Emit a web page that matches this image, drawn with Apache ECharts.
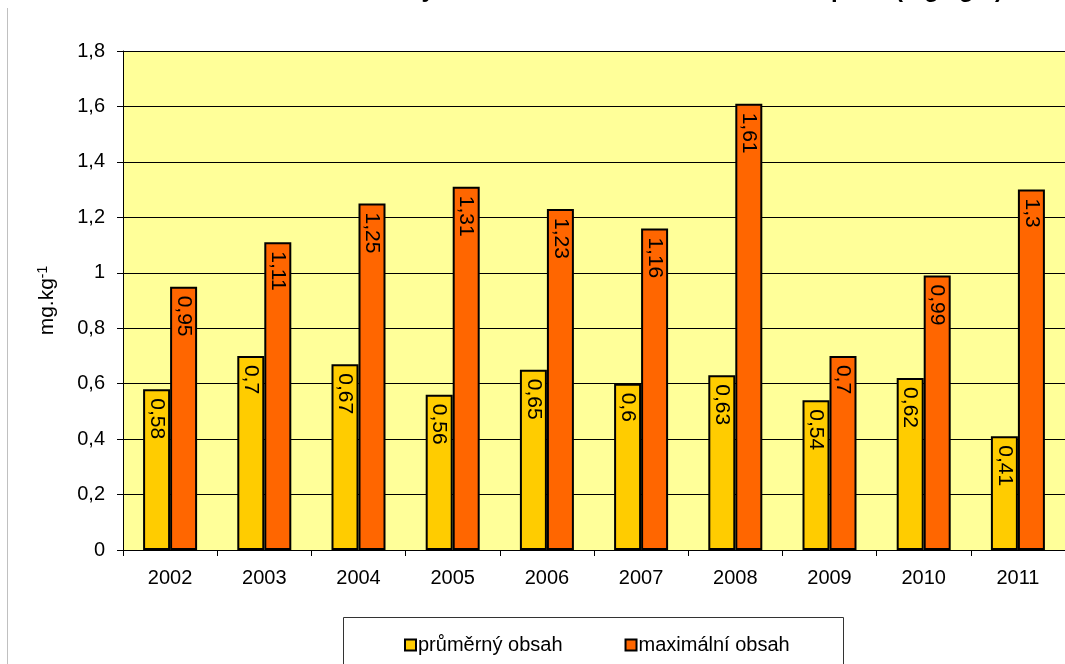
<!DOCTYPE html>
<html>
<head>
<meta charset="utf-8">
<style>
  html, body { margin: 0; padding: 0; background: #ffffff; }
  #chart { width: 1065px; height: 664px; }
</style>
<script src="https://cdn.jsdelivr.net/npm/echarts@6/dist/echarts.min.js"></script>
</head>
<body>
<div id="chart"></div>
<script>
// Years on the category axis
const years = ['2002', '2003', '2004', '2005', '2006', '2007', '2008', '2009', '2010', '2011'];
// Average content per year (mg.kg-1)
const averageContent = [0.58, 0.7, 0.67, 0.56, 0.65, 0.6, 0.63, 0.54, 0.62, 0.41];
// Maximum content per year (mg.kg-1)
const maximumContent = [0.95, 1.11, 1.25, 1.31, 1.23, 1.16, 1.61, 0.7, 0.99, 1.3];
const seriesNames = ['průměrný obsah', 'maximální obsah'];

const FONT = 'Liberation Sans, Arial, sans-serif';
const comma = v => String(v).replace('.', ',');

const barLabel = {
  show: true,
  position: 'insideTop',
  distance: 9,
  rotate: -90,
  align: 'left',
  verticalAlign: 'middle',
  color: '#000',
  fontFamily: FONT,
  fontSize: 21,
  formatter: p => comma(p.value)
};

const chart = echarts.init(document.getElementById('chart'), null, { renderer: 'canvas' });

chart.setOption({
  animation: false,
  backgroundColor: '#ffffff',
  grid: { left: 123, top: 51, width: 950, bottom: 114, show: true, backgroundColor: '#FFFF99', borderWidth: 0 },
  graphic: [
    // chart frame edge on the left
    { type: 'line', shape: { x1: 7.5, y1: 8, x2: 7.5, y2: 664 }, style: { stroke: '#c0c0c0', lineWidth: 1 } },
    // title (clipped at the top of the page)
    { type: 'text', x: 1003, y: 2, style: { text: 'Průměrný a maximální obsah kadmia v orné půdě (mg.kg-1)', align: 'right', verticalAlign: 'bottom', font: 'bold 24px ' + FONT, fill: '#000' } },
    // legend frame
    { type: 'rect', shape: { x: 343.5, y: 617.5, width: 500, height: 60 }, style: { fill: '#fff', stroke: '#333', lineWidth: 1 }, z: 0 }
  ],
  legend: {
    data: seriesNames,
    left: 399,
    top: 630,
    itemWidth: 11,
    itemHeight: 11,
    itemGap: 62,
    icon: 'rect',
    textStyle: { fontFamily: FONT, fontSize: 20, color: '#000', padding: [0, 0, 0, -3] },
    itemStyle: { borderColor: '#000', borderWidth: 2 },
    z: 5
  },
  xAxis: {
    type: 'category',
    data: years,
    axisLine: { lineStyle: { color: '#000', width: 1 } },
    axisTick: { show: true, alignWithLabel: false, length: 6, lineStyle: { color: '#000' } },
    axisLabel: { fontFamily: FONT, fontSize: 20, color: '#000', margin: 18 }
  },
  yAxis: {
    type: 'value',
    min: 0,
    max: 1.8,
    interval: 0.2,
    name: '{t|mg.kg}{s|-1}',
    nameLocation: 'middle',
    nameGap: 64,
    nameRotate: 90,
    nameTextStyle: {
      rich: {
        t: { fontFamily: FONT, fontSize: 21, color: '#000' },
        s: { fontFamily: FONT, fontSize: 14, color: '#000', verticalAlign: 'top', padding: [0, 0, 9, 0] }
      }
    },
    axisLine: { show: true, lineStyle: { color: '#000', width: 1 } },
    axisTick: { show: true, length: 6, lineStyle: { color: '#000' } },
    axisLabel: { fontFamily: FONT, fontSize: 20, color: '#000', margin: 18, formatter: v => comma(Math.round(v * 10) / 10) },
    splitLine: { show: true, lineStyle: { color: '#000', width: 1 } }
  },
  series: [
    {
      name: seriesNames[0],
      type: 'bar',
      data: averageContent,
      barWidth: 27,
      barGap: '0%',
      itemStyle: { color: '#FFCC00', borderColor: '#000', borderWidth: 2 },
      label: barLabel
    },
    {
      name: seriesNames[1],
      type: 'bar',
      data: maximumContent,
      barWidth: 27,
      barGap: '0%',
      itemStyle: { color: '#FF6600', borderColor: '#000', borderWidth: 2 },
      label: barLabel
    }
  ]
});
</script>
</body>
</html>
